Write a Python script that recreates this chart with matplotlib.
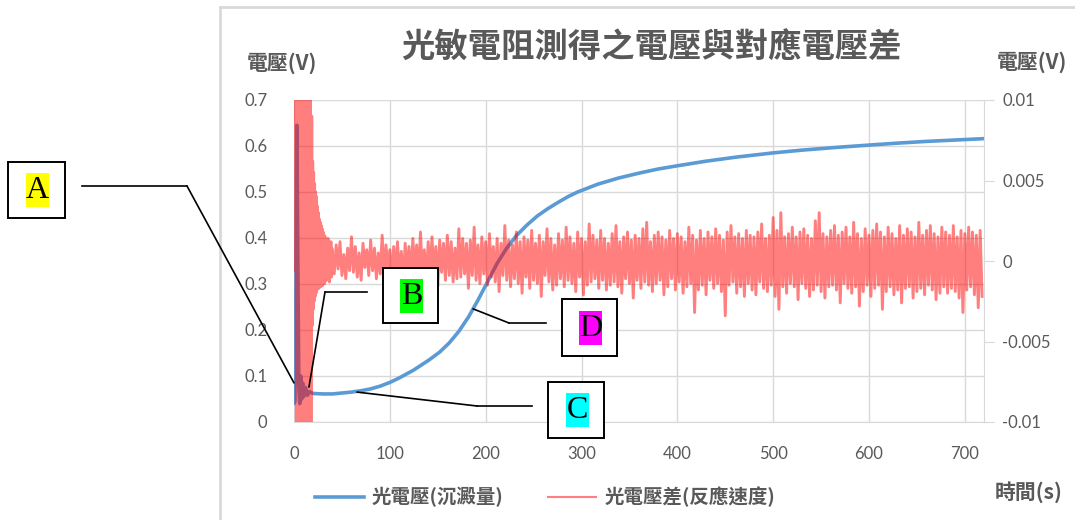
import numpy as np
import matplotlib
matplotlib.use("Agg")
import matplotlib.pyplot as plt
from matplotlib.patches import Rectangle, ConnectionPatch
from matplotlib.lines import Line2D

CJK = ['Noto Sans CJK TC', 'DejaVu Sans']
NUM = ['Lato', 'DejaVu Sans']
GRAY = '#595959'

# ---- data ----
title = "光敏電阻測得之電壓與對應電壓差"
blue_label = "光電壓(沉澱量)"
red_label = "光電壓差(反應速度)"

# light voltage (left axis, V)
blue_t = [0, 1, 2, 3, 4, 5, 6, 7, 8, 9, 10, 12, 14, 16, 20, 30, 40, 50, 60, 70, 80, 90,
          100, 110, 125, 141, 152, 162, 172, 182, 192, 202, 212, 222, 232, 243, 254, 265,
          276, 286, 296, 317, 338, 360, 380, 400, 430, 462, 500, 530, 566, 600, 628, 660,
          690, 720]
blue_v = [0.040, 0.045, 0.30, 0.645, 0.35, 0.08, 0.04, 0.10, 0.05, 0.085, 0.055, 0.075,
          0.058, 0.066, 0.062, 0.061, 0.061, 0.063, 0.065, 0.068, 0.072, 0.078,
          0.086, 0.096, 0.113, 0.135, 0.152, 0.172, 0.197, 0.228, 0.265, 0.305, 0.345,
          0.378, 0.405, 0.428, 0.448, 0.464, 0.478, 0.490, 0.500, 0.517, 0.530, 0.541,
          0.550, 0.557, 0.567, 0.576, 0.585, 0.591, 0.597, 0.602, 0.606, 0.610, 0.613,
          0.616]

# voltage difference (right axis), in units of 1e-4 V
red_early_t0, red_early_dt = 0.0, 0.5
red_early = ([0, -5, 8, -6] + [150, -150] * 16 +
             [-150, 90, -40, 62, -30, 55, -25, 48, -22, 43, -20, 40, -18, 34, -16, 30,
              -17, 26, -14, 24, -16, 22, -13, 20, -15, 18, -12, 16, -14, 15, -10, 13,
              -12, 11, -9, 14, -11, 9, -13, 10, -8, 12, -10, 8])
red_late_t0, red_late_dt = 40.0, 2.0
red_late = [
    6, -8, 10, -5, 12, -9, 4, -11, 8, -6, 15, -7, 9, -10, 5, -12, 11, -4, 7, -9,
    13, -6, 8, -11, 5, -8, 16, -9, 10, -5, 7, -13, 9, -7, 12, -10, 6, -15, 11, -8,
    9, -12, 14, -6, 10, -9, 18, -11, 7, -14, 12, -8, 15, -10, 9, -16, 13, -7, 11, -12,
    16, -9, 12, -13, 8, -11, 20, -10, 14, -8, 11, -17, 13, -9, 21, -12, 10, -14, 15, -8,
    12, -15, 17, -10, 9, -13, 14, -19, 11, -9, 22, -12, 13, -16, 10, -11, 18, -14, 12, -20,
    15, -10, 13, -17, 19, -12, 11, -14, 16, -22, 12, -9, 20, -13, 14, -18, 10, -15, 17, -11,
    13, -16, 21, -12, 15, -14, 11, -19, 18, -10, 14, -21, 12, -15, 23, -13, 16, -11, 13, -17,
    19, -12, 14, -18, 11, -15, 17, -13, 22, -16, 12, -20, 15, -11, 18, -14, 13, -23, 16, -12,
    14, -17, 20, -13, 24, -15, 12, -19, 16, -14, 18, -12, 15, -21, 13, -16, 19, -11, 14, -18,
    17, -13, 15, -20, 12, -16, 21, -14, 16, -32, 13, -18, 19, -15, 14, -21, 18, -12, 15, -17,
    20, -14, 16, -19, 13, -34, 18, -15, 22, -13, 15, -20, 17, -16, 14, -22, 19, -14, 16, -18,
    15, -21, 18, -13, 23, -17, 14, -19, 16, -15, 27, -22, 19, -30, 30, -16, 15, -20, 17, -14,
    21, -16, 15, -24, 18, -14, 20, -17, 16, -22, 14, -18, 25, -15, 30, -19, 17, -23, 15, -16,
    19, -15, 22, -18, 16, -26, 18, -14, 21, -17, 15, -20, 24, -16, 17, -28, 14, -19, 20, -15,
    16, -22, 19, -17, 23, -15, 18, -30, 15, -19, 21, -16, 17, -21, 14, -18, 22, -26, 16, -17,
    20, -16, 18, -23, 15, -19, 24, -17, 16, -21, 19, -15, 22, -18, 17, -24, 15, -20, 21, -16,
    18, -20, 16, -17, 22, -19, 15, -23, 19, -32, 17, -18, 21, -16, 18, -21, 16, -29, 19, -22,
]

x_ticks = [0, 100, 200, 300, 400, 500, 600, 700]
left_ticks = [0, 0.1, 0.2, 0.3, 0.4, 0.5, 0.6, 0.7]
left_ticklabels = ["0", "0.1", "0.2", "0.3", "0.4", "0.5", "0.6", "0.7"]
right_ticks = [-0.01, -0.005, 0, 0.005, 0.01]
right_ticklabels = ["-0.01", "-0.005", "0", "0.005", "0.01"]

W, H = 1075, 520


def fx(x):
    return x / W


def fy(y):
    return 1 - y / H


fig = plt.figure(figsize=(W / 100, H / 100), dpi=100)
ax = fig.add_axes([fx(294), fy(422), fx(984) - fx(294), fy(100) - fy(422)])

ax.plot(blue_t, blue_v, color='#5B9BD5', lw=2.6, solid_capstyle='round',
        solid_joinstyle='round', zorder=3)
ax.set_xlim(0, 720)
ax.set_ylim(0, 0.7)
ax.set_xticks(x_ticks)
ax.set_yticks(left_ticks)
ax.set_yticklabels(left_ticklabels)
ax.grid(True, color='#D9D9D9', lw=1)
ax.set_axisbelow(True)
for s in ['top', 'left', 'right']:
    ax.spines[s].set_visible(False)
ax.spines['bottom'].set_color('#D9D9D9')
ax.tick_params(axis='x', length=0, pad=17, labelsize=12, labelcolor=GRAY)
ax.tick_params(axis='y', length=0, pad=19, labelsize=12, labelcolor=GRAY)

ax2 = ax.twinx()
red_t = np.concatenate([red_early_t0 + red_early_dt * np.arange(len(red_early)),
                        red_late_t0 + red_late_dt * np.arange(len(red_late))])
red_v = np.array(red_early + red_late) * 1e-4
ax2.plot(red_t, red_v, color='#FF0000', alpha=0.5, lw=2.1)
ax2.set_ylim(-0.01, 0.01)
ax2.set_xlim(0, 720)
ax2.set_yticks(right_ticks)
ax2.set_yticklabels(right_ticklabels)
for s in ['top', 'left', 'bottom']:
    ax2.spines[s].set_visible(False)
ax2.spines['right'].set_color('#D9D9D9')
ax2.tick_params(axis='y', length=7, color='#D9D9D9', pad=6, labelsize=12, labelcolor=GRAY)

for lab in ax.get_xticklabels() + ax.get_yticklabels() + ax2.get_yticklabels():
    lab.set_family(NUM)

# texts
fig.text(fx(652), fy(48), title, family=CJK, fontsize=24, fontweight='bold',
         color=GRAY, ha='center', va='center')
fig.text(fx(282), fy(63), "電壓(V)", family=CJK, fontsize=15, fontweight='bold',
         color=GRAY, ha='center', va='center')
fig.text(fx(1032), fy(62), "電壓(V)", family=CJK, fontsize=15, fontweight='bold',
         color=GRAY, ha='center', va='center')
fig.text(fx(1029), fy(492), "時間(s)", family=CJK, fontsize=15, fontweight='bold',
         color=GRAY, ha='center', va='center')

# legend
h1 = Line2D([], [], color='#5B9BD5', lw=2.6)
h2 = Line2D([], [], color='#FF0000', alpha=0.5, lw=1.5)
leg = fig.legend([h1, h2], [blue_label, red_label], loc='center',
                 bbox_to_anchor=(fx(545), fy(497)), ncol=2, frameon=False,
                 handlelength=2.5, columnspacing=2.3, handletextpad=0.4,
                 prop={'family': CJK, 'size': 14, 'weight': 'bold'})
for t in leg.get_texts():
    t.set_color(GRAY)

# chart area border
fig.add_artist(Line2D([fx(220), fx(1075)], [fy(7), fy(7)], color='#D9D9D9', lw=2))
fig.add_artist(Line2D([fx(220), fx(220)], [fy(7), fy(520)], color='#D9D9D9', lw=2))

# annotation boxes: (letter, box x0, y0, x1, y1, highlight colour,
#                    line start, elbow, target on curve)
notes = [
    ("A", (8, 162, 65, 218), '#FFFF00', (82, 186), (187, 186), (0, 0.085)),
    ("B", (383, 268, 438, 323), '#00FF00', (367, 292), (325, 292), (15.6, 0.076)),
    ("C", (548, 382, 604, 438), '#00FFFF', (532, 406), (477, 406), (65.7, 0.065)),
    ("D", (562, 299, 617, 356), '#FF00FF', (546, 323), (509, 323), (186.8, 0.246)),
]
for letter, (x0, y0, x1, y1), hl, p0, p1, target in notes:
    fig.add_artist(Rectangle((fx(x0), fy(y1)), fx(x1) - fx(x0), fy(y0) - fy(y1),
                             transform=fig.transFigure, fill=True, facecolor='white',
                             edgecolor='black', lw=1.4, zorder=5))
    cx, cy = (x0 + x1) / 2 + 1, (y0 + y1) / 2
    fig.add_artist(Rectangle((fx(cx - 11.5), fy(cy + 17)), fx(23), fy(0) - fy(34),
                             transform=fig.transFigure, facecolor=hl,
                             edgecolor='none', zorder=6))
    fig.text(fx(cx), fy(cy + 1), letter, family=['Liberation Serif'], fontsize=23,
             ha='center', va='center', color='black', zorder=7)
    fig.add_artist(Line2D([fx(p0[0]), fx(p1[0])], [fy(p0[1]), fy(p1[1])],
                          color='black', lw=1.2, zorder=8))
    con = ConnectionPatch(xyA=(fx(p1[0]), fy(p1[1])), coordsA=fig.transFigure,
                          xyB=target, coordsB=ax.transData, color='black', lw=1.2,
                          zorder=8)
    fig.add_artist(con)

fig.savefig("out.png", dpi=100)
